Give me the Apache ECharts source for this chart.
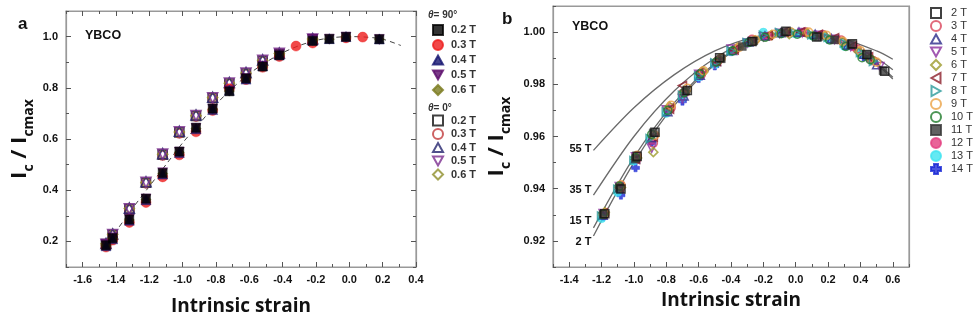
<!DOCTYPE html>
<html><head><meta charset="utf-8">
<script src="https://cdn.jsdelivr.net/npm/echarts@6/dist/echarts.min.js"></script>
<style>html,body{margin:0;padding:0;background:#fff}#c{width:974px;height:325px}</style>
</head><body><div id="c"></div><script>
// ---------- Panel a data ----------
const aXTicks = [-1.6,-1.4,-1.2,-1.0,-0.8,-0.6,-0.4,-0.2,0.0,0.2,0.4];
const aXMinor = [-1.7,-1.5,-1.3,-1.1,-0.9,-0.7,-0.5,-0.3,-0.1,0.1,0.3];
const aYTicks = [0.2,0.4,0.6,0.8,1.0];
const aYMinor = [0.1,0.3,0.5,0.7,0.9,1.1];

const aX90 = [-1.46,-1.42,-1.32,-1.22,-1.12,-1.02,-0.92,-0.82,-0.72,-0.62,-0.52,-0.42,-0.22,-0.12,-0.02,0.18];
const a90_02T = [0.185,0.213,0.286,0.367,0.467,0.551,0.644,0.719,0.786,0.837,0.883,0.927,0.983,0.991,0.999,0.990];
const a90_04T = [0.183,0.210,0.283,0.363,0.463,0.547,0.640,0.715,0.790,0.834,0.886,0.929,0.986,0.992,1.000,0.991];
const a90_05T = [0.187,0.214,0.287,0.366,0.468,0.549,0.642,0.717,0.788,0.836,0.885,0.930,0.990,0.990,0.998,0.989];
const a90_06T = [0.184,0.211,0.284,0.364,0.465,0.548,0.641,0.716,0.787,0.835,0.884,0.928,0.984,0.990,0.999,0.990];
const aX90_03 = [-1.46,-1.42,-1.32,-1.22,-1.12,-1.02,-0.92,-0.82,-0.72,-0.62,-0.52,-0.42,-0.32,-0.22,-0.02,0.08];
const a90_03T = [0.178,0.205,0.274,0.352,0.452,0.538,0.628,0.711,0.796,0.832,0.880,0.922,0.963,0.975,0.995,0.998];

const aX0 = [-1.46,-1.42,-1.32,-1.22,-1.12,-1.02,-0.92,-0.82,-0.72,-0.62,-0.52,-0.42,-0.22];
const a0_02T = [0.190,0.226,0.326,0.429,0.539,0.626,0.690,0.760,0.817,0.856,0.905,0.933,0.989];
const a0_03T = [0.188,0.224,0.323,0.427,0.536,0.622,0.688,0.758,0.815,0.853,0.903,0.931,0.988];
const a0_04T = [0.192,0.229,0.330,0.433,0.543,0.630,0.694,0.763,0.821,0.860,0.909,0.936,0.992];
const a0_05T = [0.189,0.227,0.327,0.431,0.541,0.628,0.692,0.761,0.819,0.858,0.907,0.935,0.990];
const a0_06T = [0.191,0.228,0.329,0.430,0.540,0.627,0.691,0.762,0.818,0.857,0.906,0.934,0.991];

const aFitX = [-1.48,-1.4,-1.3,-1.2,-1.1,-1.0,-0.9,-0.8,-0.7,-0.6,-0.5,-0.4,-0.3,-0.2,-0.1,0.0,0.1,0.2,0.31];
const aFitY = [0.175,0.24,0.33,0.415,0.5,0.585,0.66,0.735,0.80,0.855,0.9,0.937,0.965,0.985,0.996,1.0,0.998,0.99,0.965];

// ---------- Panel b data ----------
const bXTicks = [-1.4,-1.2,-1.0,-0.8,-0.6,-0.4,-0.2,0.0,0.2,0.4,0.6];
const bXMinor = [-1.5,-1.3,-1.1,-0.9,-0.7,-0.5,-0.3,-0.1,0.1,0.3,0.5,0.7];
const bYTicks = [0.92,0.94,0.96,0.98,1.00];
const bYMinor = [0.91,0.93,0.95,0.97,0.99,1.01];

const bCurveX = [-1.25,-1.0,-0.75,-0.5,-0.25,0.0,0.25,0.5,0.6];
const bFit55T = [0.9547,0.971,0.9837,0.9928,0.9982,1.0,0.9982,0.9928,0.9896];
const bFit35T = [0.9375,0.960,0.9775,0.990,0.9975,1.0,0.9975,0.990,0.9856];
const bFit15T = [0.925,0.952,0.973,0.988,0.997,1.0,0.997,0.988,0.9827];
const bFit2T  = [0.9219,0.950,0.9719,0.9875,0.9969,1.0,0.9969,0.9875,0.982];
const bCurveNames = ['55 T','35 T','15 T','2 T'];

const b2T = [[-1.18,0.9304],[-1.08,0.9399],[-0.98,0.9524],[-0.87,0.9616],[-0.67,0.9776],[-0.47,0.9902],[-0.27,0.9964],[-0.06,1.0003],[0.13,0.9981],[0.35,0.9955],[0.44,0.9914],[0.55,0.985]];
const b3T = [[-1.18,0.9302],[-1.08,0.9412],[-0.98,0.9526],[-0.88,0.9575],[-0.77,0.971],[-0.7,0.9765],[-0.58,0.9845],[-0.48,0.9892],[-0.37,0.9935],[-0.27,0.9972],[-0.16,0.9985],[-0.05,1.0],[0.06,1.0],[0.17,0.999],[0.28,0.997],[0.38,0.9935],[0.48,0.989]];
const b4T = [[-1.19,0.9298],[-1.09,0.9402],[-0.99,0.9515],[-0.89,0.9595],[-0.79,0.9695],[-0.69,0.9755],[-0.59,0.9835],[-0.49,0.9888],[-0.39,0.993],[-0.29,0.9962],[-0.19,0.9985],[-0.09,0.9998],[0.02,1.0],[0.12,0.9992],[0.22,0.9975],[0.32,0.995],[0.42,0.9915],[0.5,0.9875]];
const b5T = [[-1.19,0.9305],[-1.09,0.9408],[-0.99,0.9522],[-0.89,0.9555],[-0.8,0.9702],[-0.7,0.9745],[-0.6,0.9838],[-0.5,0.9878],[-0.4,0.9935],[-0.3,0.9958],[-0.2,0.9982],[-0.1,0.9995],[0.04,0.9998],[0.14,0.9988],[0.24,0.9972],[0.34,0.9945],[0.44,0.9905],[0.52,0.9868]];
const b6T = [[-1.18,0.931],[-1.08,0.9405],[-0.98,0.9518],[-0.88,0.954],[-0.78,0.9715],[-0.68,0.9772],[-0.57,0.9848],[-0.47,0.9895],[-0.36,0.994],[-0.25,0.9968],[-0.15,0.9988],[-0.04,0.9992],[0.07,0.9996],[0.18,0.9985],[0.29,0.9962],[0.39,0.9925],[0.47,0.9895]];
const b7T = [[-1.19,0.9308],[-1.09,0.9404],[-0.99,0.9512],[-0.88,0.9598],[-0.78,0.9705],[-0.7,0.9795],[-0.6,0.9842],[-0.49,0.9888],[-0.38,0.9932],[-0.28,0.9966],[-0.17,0.9988],[-0.07,1.0],[0.03,1.0],[0.14,0.9992],[0.24,0.9978],[0.35,0.9948],[0.45,0.9905]];
const b8T = [[-1.2,0.9295],[-1.1,0.9398],[-1.0,0.9508],[-0.9,0.9592],[-0.8,0.9694],[-0.7,0.9758],[-0.6,0.9832],[-0.5,0.9882],[-0.4,0.9928],[-0.3,0.996],[-0.2,0.9988],[-0.1,0.9998],[0.0,0.9998],[0.1,0.999],[0.2,0.998],[0.3,0.9958],[0.4,0.9922],[0.48,0.9888]];
const b9T = [[-1.18,0.9306],[-1.08,0.9415],[-0.98,0.9528],[-0.87,0.9605],[-0.77,0.972],[-0.67,0.9785],[-0.57,0.9852],[-0.46,0.99],[-0.35,0.9942],[-0.25,0.997],[-0.14,0.9992],[-0.03,1.0],[0.08,1.0],[0.19,0.9988],[0.29,0.9965],[0.4,0.9928],[0.5,0.9885]];
const b10T = [[-1.19,0.9302],[-1.09,0.941],[-0.99,0.9518],[-0.89,0.9608],[-0.79,0.97],[-0.69,0.9768],[-0.59,0.984],[-0.49,0.9885],[-0.39,0.9928],[-0.29,0.996],[-0.19,0.998],[-0.09,0.9994],[0.01,0.9992],[0.11,0.9985],[0.21,0.997],[0.31,0.9945],[0.41,0.9902],[0.46,0.9895]];
const b11T = [[-1.19,0.9302],[-1.09,0.9404],[-0.99,0.9516],[-0.88,0.9614],[-0.68,0.9774],[-0.46,0.9898],[-0.33,0.9945],[-0.26,0.9966],[-0.07,1.0],[0.14,0.9982],[0.24,0.997],[0.34,0.9952],[0.44,0.9912],[0.54,0.9852]];
const b12T = [[-1.18,0.9298],[-1.08,0.9402],[-0.98,0.9514],[-0.89,0.9585],[-0.78,0.9702],[-0.68,0.9768],[-0.58,0.9838],[-0.48,0.9888],[-0.38,0.993],[-0.27,0.9965],[-0.17,0.9984],[-0.06,0.9998],[0.05,1.0],[0.15,0.9988],[0.26,0.997],[0.36,0.9942],[0.46,0.9898]];
const b13T = [[-1.2,0.9285],[-1.1,0.9385],[-1.0,0.9505],[-0.9,0.959],[-0.8,0.9688],[-0.7,0.9748],[-0.6,0.9828],[-0.5,0.9875],[-0.4,0.9925],[-0.3,0.9962],[-0.2,1.0],[-0.1,0.9995],[0.0,0.9992],[0.1,0.9985],[0.2,0.9972],[0.3,0.9945],[0.4,0.9915]];
const b14T = [[-1.19,0.9292],[-1.08,0.9375],[-0.99,0.948],[-0.89,0.9578],[-0.7,0.9735],[-0.6,0.9822],[-0.5,0.987],[-0.4,0.9925],[-0.3,0.9958],[-0.19,0.9985],[-0.09,0.9995],[0.02,0.9996],[0.12,0.9988],[0.22,0.9972],[0.32,0.9948],[0.42,0.9905]];

// ---------- styling ----------
const FONT = '"Liberation Sans", Arial, sans-serif';
const TITLEFONT = '"Open Sans", "Liberation Sans", sans-serif';
const PLUS = 'path://M3,0H7V3H10V7H7V10H3V7H0V3H3Z';
const TRI_UP = 'path://M5,0L10,9L0,9Z';
const TRI_DOWN = 'path://M0,0L10,0L5,9Z';
const TRI_LEFT = 'path://M9,0L9,10L0,5Z';
const TRI_RIGHT = 'path://M0,0L0,10L9,5Z';

function pairs(xs, ys){ return xs.map((x,i)=>[x, ys[i]]); }

function scat(name, data, p, symbol, color, filled, size){
  return {
    type:'scatter', name, data, xAxisIndex:4*p, yAxisIndex:4*p,
    symbol, symbolSize: size,
    itemStyle: filled ? {color:color, borderColor:color, borderWidth:0.5}
                      : {color:'rgba(255,255,255,0)', borderColor:color, borderWidth:1.6},
    emphasis:{disabled:true}, z:3
  };
}

const tickStyle = {color:'#555', width:1};
function axesX(grid, min, max, major, minor, dec, name, nameGap, withTop){
  return [
    {gridIndex:grid, type:'value', position:'bottom', min, max,
     axisLine:{show:true, onZero:false, lineStyle:{color:'#999', width:1.2}}, splitLine:{show:false},
     axisTick:{show:true, inside:true, length:5, customValues:major, lineStyle:tickStyle},
     axisLabel:{show:true, customValues:major, formatter:v=>v.toFixed(dec), color:'#111', fontWeight:'bold', fontSize:11, fontFamily:FONT, margin:7},
     name, nameLocation:'middle', nameGap,
     nameTextStyle:{fontFamily:TITLEFONT, fontWeight:'bold', fontSize:19, color:'#111'}},
    {gridIndex:grid, type:'value', position:'bottom', min, max,
     axisLine:{show:false, onZero:false}, splitLine:{show:false}, axisLabel:{show:false},
     axisTick:{show:true, inside:true, length:3, customValues:minor, lineStyle:tickStyle}},
    {gridIndex:grid, type:'value', position:'top', min, max,
     axisLine:{show:true, onZero:false, lineStyle:{color:'#999', width:1.2}}, splitLine:{show:false}, axisLabel:{show:false},
     axisTick:{show:withTop, inside:true, length:5, customValues:major, lineStyle:tickStyle}},
    {gridIndex:grid, type:'value', position:'top', min, max,
     axisLine:{show:false, onZero:false}, splitLine:{show:false}, axisLabel:{show:false},
     axisTick:{show:withTop, inside:true, length:3, customValues:minor, lineStyle:tickStyle}}
  ];
}
function axesY(grid, min, max, major, minor, dec, nameGap, withRight){
  return [
    {gridIndex:grid, type:'value', position:'left', min, max,
     axisLine:{show:true, onZero:false, lineStyle:{color:'#999', width:1.2}}, splitLine:{show:false},
     axisTick:{show:true, inside:true, length:5, customValues:major, lineStyle:tickStyle},
     axisLabel:{show:true, customValues:major, formatter:v=>v.toFixed(dec), color:'#111', fontWeight:'bold', fontSize:11, fontFamily:FONT, margin:8},
     name:'{m|I}{s|c}{m| / I}{s|cmax}', nameLocation:'middle', nameGap, nameRotate:90,
     nameTextStyle:{color:'#111', rich:{
       m:{fontFamily:TITLEFONT, fontWeight:'bold', fontSize:22, lineHeight:26, verticalAlign:'top', color:'#111'},
       s:{fontFamily:TITLEFONT, fontWeight:'bold', fontSize:14, lineHeight:14, padding:[13,0,0,0], verticalAlign:'top', color:'#111'}}}},
    {gridIndex:grid, type:'value', position:'left', min, max,
     axisLine:{show:false, onZero:false}, splitLine:{show:false}, axisLabel:{show:false},
     axisTick:{show:true, inside:true, length:3, customValues:minor, lineStyle:tickStyle}},
    {gridIndex:grid, type:'value', position:'right', min, max,
     axisLine:{show:true, onZero:false, lineStyle:{color:'#999', width:1.2}}, splitLine:{show:false}, axisLabel:{show:false},
     axisTick:{show:withRight, inside:true, length:5, customValues:major, lineStyle:tickStyle}},
    {gridIndex:grid, type:'value', position:'right', min, max,
     axisLine:{show:false, onZero:false}, splitLine:{show:false}, axisLabel:{show:false},
     axisTick:{show:withRight, inside:true, length:3, customValues:minor, lineStyle:tickStyle}}
  ];
}

const series = [];
// panel a fit (dashed)
series.push({type:'line', name:'fitA', data:pairs(aFitX,aFitY), xAxisIndex:0, yAxisIndex:0,
  smooth:0.3, showSymbol:false, lineStyle:{color:'#444', width:1, type:[5,4]}, z:2, silent:true});
// panel a, theta = 0 (open)
series.push(scat('0|0.2 T', pairs(aX0,a0_02T), 0, 'rect', '#111', false, 9));
series.push(scat('0|0.3 T', pairs(aX0,a0_03T), 0, 'circle', '#c0393b', false, 9));
series.push(scat('0|0.6 T', pairs(aX0,a0_06T), 0, 'diamond', '#8e8e2a', false, 10));
series.push(scat('0|0.4 T', pairs(aX0,a0_04T), 0, TRI_UP, '#24246e', false, 10));
series.push(scat('0|0.5 T', pairs(aX0,a0_05T), 0, TRI_DOWN, '#7b2d8e', false, 10));
// panel a, theta = 90 (filled)
series.push(scat('90|0.3 T', pairs(aX90_03,a90_03T), 0, 'circle', '#ee1c1c', true, 10));
series.push(scat('90|0.6 T', pairs(aX90,a90_06T), 0, 'diamond', '#7a7a1e', true, 10));
series.push(scat('90|0.5 T', pairs(aX90,a90_05T), 0, TRI_DOWN, '#5a0a6a', true, 10));
series.push(scat('90|0.4 T', pairs(aX90,a90_04T), 0, TRI_UP, '#141470', true, 10));
series.push(scat('90|0.2 T', pairs(aX90,a90_02T), 0, 'rect', '#000', true, 9));

// panel b fit curves
const bLabelDy = [-1,-5,-7,6];
[bFit55T,bFit35T,bFit15T,bFit2T].forEach((ys,k)=>{
  series.push({type:'line', name:'fit'+bCurveNames[k], data:pairs(bCurveX,ys), xAxisIndex:4, yAxisIndex:4,
    smooth:0.3, showSymbol:true, showAllSymbol:true, symbol:'circle', symbolSize:0, silent:true,
    lineStyle:{color:'#6a6a6a', width:1.3}, z:2,
    label:{show:true, position:'left', distance:2, offset:[0,bLabelDy[k]], fontFamily:FONT, fontWeight:'bold', fontSize:11, color:'#111',
      formatter:p=>p.dataIndex===0 ? bCurveNames[k] : ''}});
});
series.push(scat('14 T', b14T, 1, PLUS, '#1c2ad6', true, 8));
series.push(scat('13 T', b13T, 1, 'circle', '#3fe3f0', true, 8));
series.push(scat('12 T', b12T, 1, 'circle', '#e43d7f', true, 8));
series.push(scat('3 T', b3T, 1, 'circle', '#d9435a', false, 8));
series.push(scat('4 T', b4T, 1, TRI_UP, '#2a2a8a', false, 8));
series.push(scat('5 T', b5T, 1, TRI_DOWN, '#8b2f9e', false, 8));
series.push(scat('6 T', b6T, 1, 'diamond', '#9c9a2a', false, 9));
series.push(scat('7 T', b7T, 1, TRI_LEFT, '#8c1f2a', false, 8));
series.push(scat('8 T', b8T, 1, TRI_RIGHT, '#2b9a9a', false, 8));
series.push(scat('9 T', b9T, 1, 'circle', '#eba346', false, 8));
series.push(scat('10 T', b10T, 1, 'circle', '#1f7a2a', false, 8));
series.push(scat('11 T', b11T, 1, 'rect', '#3a3a3a', true, 8));
series.push(scat('2 T', b2T, 1, 'rect', '#111', false, 8));

const legText = {fontFamily:FONT, fontWeight:'bold', fontSize:11, lineHeight:12, color:'#333', padding:[0,0,0,3]};

const option = {
  animation:false,
  backgroundColor:'#fff',
  grid:[
    {left:66, top:11, width:350, height:256, show:true, borderColor:'#999', borderWidth:1.2, backgroundColor:'rgba(0,0,0,0)'},
    {left:553, top:6, width:356, height:261, show:true, borderColor:'#999', borderWidth:1.2, backgroundColor:'rgba(0,0,0,0)'}
  ],
  xAxis: axesX(0,-1.7,0.4,aXTicks,aXMinor,1,'Intrinsic strain',30,true)
          .concat(axesX(1,-1.5,0.7,bXTicks,bXMinor,1,'Intrinsic strain',24,false)),
  yAxis: axesY(0,0.1,1.1,aYTicks,aYMinor,1,31,true)
          .concat(axesY(1,0.91,1.01,bYTicks,bYMinor,2,41,false)),
  legend:[
    {left:427, top:19, orient:'vertical', itemWidth:10, itemHeight:10, itemGap:3, selectedMode:false,
     data:['90|0.2 T','90|0.3 T','90|0.4 T','90|0.5 T','90|0.6 T'], formatter:n=>n.split('|')[1], textStyle:legText},
    {left:427, top:109.5, orient:'vertical', itemWidth:10, itemHeight:10, itemGap:1.5, selectedMode:false,
     data:['0|0.2 T','0|0.3 T','0|0.4 T','0|0.5 T','0|0.6 T'], formatter:n=>n.split('|')[1], textStyle:legText},
    {left:925, top:2, orient:'vertical', itemWidth:10, itemHeight:10, itemGap:1, selectedMode:false,
     data:['2 T','3 T','4 T','5 T','6 T','7 T','8 T','9 T','10 T','11 T','12 T','13 T','14 T'],
     textStyle:{fontFamily:FONT, fontSize:11, lineHeight:12, color:'#333', padding:[0,0,0,5]}}
  ],
  graphic:[
    {type:'text', left:18, top:16, style:{text:'a', font:'bold 17px '+FONT, fill:'#111'}},
    {type:'text', left:502, top:11, style:{text:'b', font:'bold 17px '+FONT, fill:'#111'}},
    {type:'text', left:85, top:29, style:{text:'YBCO', font:'bold 12.5px '+FONT, fill:'#111'}},
    {type:'text', left:572, top:20, style:{text:'YBCO', font:'bold 12.5px '+FONT, fill:'#111'}},
    {type:'text', left:428, top:10, style:{text:'{i|θ}= 90°', font:'bold 10px '+FONT, fill:'#333', rich:{i:{fontStyle:'italic', fontWeight:'bold', fontSize:10, fontFamily:FONT, fill:'#333'}}}},
    {type:'text', left:428, top:103, style:{text:'{i|θ}= 0°', font:'bold 10px '+FONT, fill:'#333', rich:{i:{fontStyle:'italic', fontWeight:'bold', fontSize:10, fontFamily:FONT, fill:'#333'}}}}
  ],
  series
};
const chart = echarts.init(document.getElementById('c'), null, {renderer:'canvas'});
chart.setOption(option);
</script></body></html>
